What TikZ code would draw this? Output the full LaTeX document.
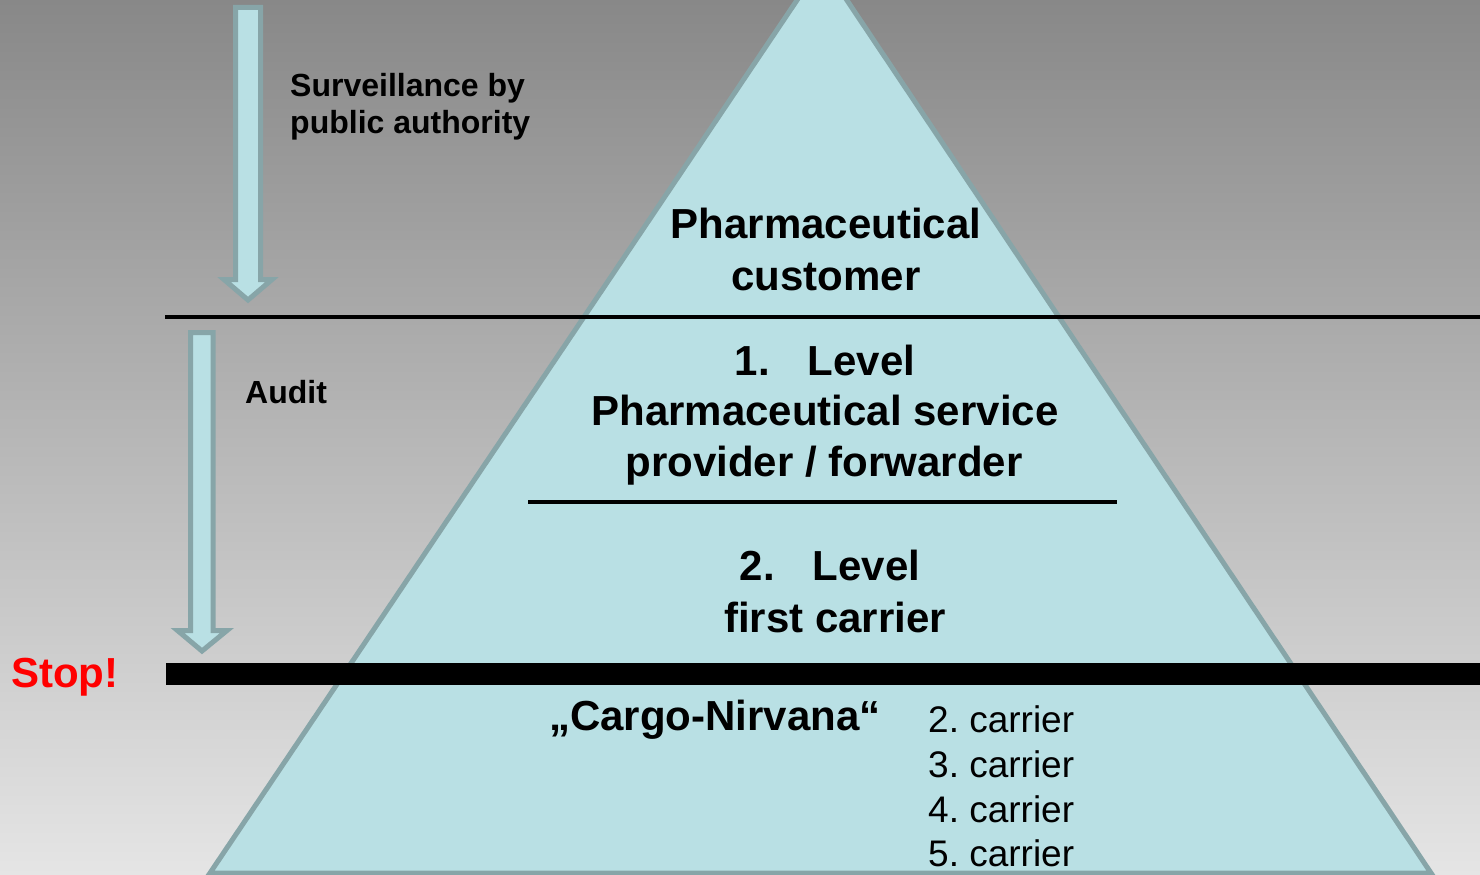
\documentclass[tikz,border=0pt]{standalone}
\usepackage{fontspec}
\setmainfont{Liberation Sans}
\definecolor{bgtop}{RGB}{136,136,136}
\definecolor{bgbot}{RGB}{229,229,229}
\definecolor{trifill}{RGB}{185,224,228}
\definecolor{triedge}{RGB}{135,165,168}
\definecolor{stopred}{RGB}{255,0,0}
\frenchspacing
\begin{document}
\begin{tikzpicture}[x=1pt,y=-1pt,
  big/.style={font=\fontsize{42}{50}\selectfont\bfseries, inner sep=0pt, anchor=base},
  side/.style={font=\fontsize{32}{38}\selectfont\bfseries, inner sep=0pt, anchor=base west},
  carr/.style={font=\fontsize{37}{45}\selectfont, inner sep=0pt, anchor=base west},
  arrowbox/.style={fill=trifill, draw=triedge, line width=5pt, line join=miter}]
\useasboundingbox (0,0) rectangle (1480,875);
\clip (0,0) rectangle (1480,875);
% background
\shade[top color=bgtop, bottom color=bgbot] (0,0) rectangle (1480,875);
% pyramid
\draw[fill=trifill, draw=triedge, line width=5pt, line join=miter]
  (822,-37) -- (1431,873) -- (210,873) -- cycle;
% separating lines
\draw[line width=4pt] (165,317) -- (1480,317);
\draw[line width=3.5pt] (528,502) -- (1117,502);
\fill[black] (166,663) rectangle (1480,685);
% arrows
\draw[arrowbox] (235.5,7.5) -- (260.5,7.5) -- (260.5,279.5) -- (272,279.5) -- (248,300) -- (224,279.5) -- (235.5,279.5) -- cycle;
\draw[arrowbox] (190.5,332.5) -- (213,332.5) -- (213,630.5) -- (227,630.5) -- (202,651) -- (177.5,630.5) -- (190.5,630.5) -- cycle;
% texts
\node[side] (surv1) at (290,96) {Surveillance by};
\node[side] (surv2) at (290,133) {public authority};
\node[side] (audit) at (245,403) {Audit};
\node[big, anchor=base west, text=stopred] (stop) at (11,687) {Stop!};
\node[big] (cust1) at (826,238) {Pharmaceutical};
\node[big] (cust2) at (826,290) {customer};
\node[big] (lev1) at (825,375) {1.\hspace{38pt}Level};
\node[big] (lev1b) at (825,425) {Pharmaceutical service};
\node[big] (lev1c) at (824,476) {provider / forwarder};
\node[big] (lev2) at (830,580) {2.\hspace{38pt}Level};
\node[big] (lev2b) at (835,632) {first carrier};
\node[big, anchor=base west] (nirv) at (549,730) {„Cargo-Nirvana“};
\node[carr] (c2) at (928,732) {2. carrier};
\node[carr] (c3) at (928,777) {3. carrier};
\node[carr] (c4) at (928,822) {4. carrier};
\node[carr] (c5) at (928,866) {5. carrier};
\end{tikzpicture}
\end{document}
